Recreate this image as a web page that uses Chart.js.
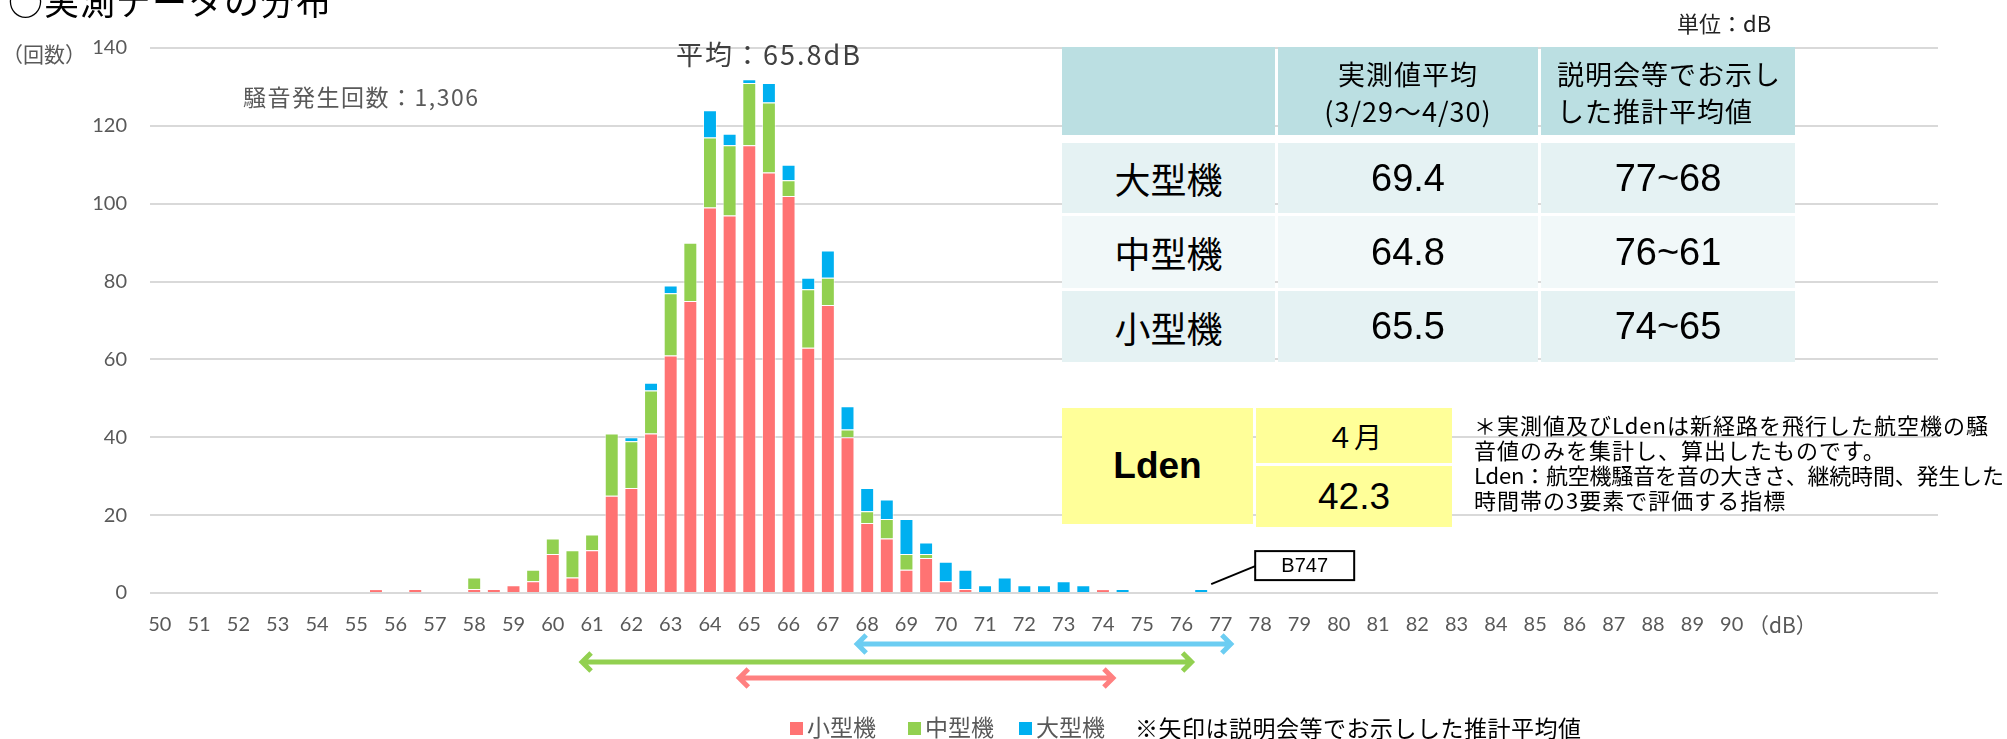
<!DOCTYPE html>
<html lang="ja">
<head>
<meta charset="utf-8">
<title>実測データの分布</title>
<script src="https://cdn.jsdelivr.net/npm/chart.js@4.4.1/dist/chart.umd.min.js"></script>
<style>
  html, body { margin: 0; padding: 0; background: #fff; }
  #page { position: relative; width: 2007px; height: 739px; overflow: hidden;
          font-family: "Noto Sans CJK JP", "Noto Sans", sans-serif; color: #000; }
  #chart { position: absolute; left: 0; top: 0; }
  .t { position: absolute; white-space: nowrap; line-height: 1; }
  .gray { color: #595959; }
  .cell { position: absolute; box-sizing: border-box; display: flex; align-items: center;
          justify-content: center; white-space: nowrap; }
  .num { font-family: "Liberation Sans", Arial, sans-serif; font-size: 38px; }
  .lbl { font-size: 36px; }
  .sq { position: absolute; width: 13px; height: 13px; top: 722px; }
</style>
</head>
<body>
<div id="page">
  <canvas id="chart" width="2007" height="739"></canvas>

  <div class="t" style="left:8px; top:-18px; font-size:35px; letter-spacing:1px;">○実測データの分布</div>
  <div class="t gray" style="left:2px; top:43px; font-size:21px;">（回数）</div>
  <div class="t gray" style="left:243px; top:85px; font-size:23px; letter-spacing:1.5px;">騒音発生回数：1,306</div>
  <div class="t" style="left:676px; top:40px; font-size:27px; letter-spacing:2px; color:#404040;">平均：65.8dB</div>
  <div class="t" style="left:1677px; top:11px; font-size:22px; color:#222;">単位：dB</div>
  <div class="t gray" style="left:1748px; top:614px; font-size:21px;">（dB）</div>

  <div id="table"></div>

  <div class="cell" style="left:1062px; top:408px; width:191px; height:116px; background:#ffff99;
       font-family:'Liberation Sans', Arial, sans-serif; font-weight:bold; font-size:37px;">Lden</div>
  <div class="cell" style="left:1256px; top:408px; width:196px; height:55px; background:#ffff99; font-size:28px;">４月</div>
  <div class="cell num" style="left:1256px; top:466px; width:196px; height:61px; background:#ffff99; font-size:37px;">42.3</div>

  <div class="t" style="left:1474px; top:412px; font-size:22px; line-height:25px; letter-spacing:1px;">
    ＊実測値及びLdenは新経路を飛行した航空機の騒<br>音値のみを集計し、算出したものです。<br><span style="letter-spacing:-0.2px;">Lden：航空機騒音を音の大きさ、継続時間、発生した</span><br>時間帯の3要素で評価する指標
  </div>

  <div id="legend"></div>
  <div class="t" style="left:1135px; top:716px; font-size:23px; letter-spacing:0.5px;">※矢印は説明会等でお示しした推計平均値</div>
</div>

<script>
// 階級 (0.5dB刻み)
const bins = [
  '50','50.5','51','51.5','52','52.5','53','53.5','54','54.5',
  '55','55.5','56','56.5','57','57.5','58','58.5','59','59.5',
  '60','60.5','61','61.5','62','62.5','63','63.5','64','64.5',
  '65','65.5','66','66.5','67','67.5','68','68.5','69','69.5',
  '70','70.5','71','71.5','72','72.5','73','73.5','74','74.5',
  '75','75.5','76','76.5','77','77.5','78','78.5','79','79.5',
  '80','80.5','81','81.5','82','82.5','83','83.5','84','84.5',
  '85','85.5','86','86.5','87','87.5','88','88.5','89','89.5',
  '90','90.5','91','91.5','92','92.5','93','93.5','94','94.5',
  '95'
];
const xTickLabels = [
  '50','51','52','53','54','55','56','57','58','59','60','61','62','63','64','65',
  '66','67','68','69','70','71','72','73','74','75','76','77','78','79','80','81',
  '82','83','84','85','86','87','88','89','90'
];
const yTicks = [0, 20, 40, 60, 80, 100, 120, 140];

// 回数
const smallPlanes = [
  0,0,0,0,0,0,0,0,0,0,
  0,1,0,1,0,0,1,1,2,3,
  10,4,11,25,27,41,61,75,99,97,
  115,108,102,63,74,40,18,14,6,9,
  3,1,0,0,0,0,0,0,1,0,
  0,0,0,0,0,0,0,0,0,0,
  0,0,0,0,0,0,0,0,0,0,
  0,0,0,0,0,0,0,0,0,0,
  0,0,0,0,0,0,0,0,0,0,
  0
];
const mediumPlanes = [
  0,0,0,0,0,0,0,0,0,0,
  0,0,0,0,0,0,3,0,0,3,
  4,7,4,16,12,11,16,15,18,18,
  16,18,4,15,7,2,3,5,4,1,
  0,0,0,0,0,0,0,0,0,0,
  0,0,0,0,0,0,0,0,0,0,
  0,0,0,0,0,0,0,0,0,0,
  0,0,0,0,0,0,0,0,0,0,
  0,0,0,0,0,0,0,0,0,0,
  0
];
const largePlanes = [
  0,0,0,0,0,0,0,0,0,0,
  0,0,0,0,0,0,0,0,0,0,
  0,0,0,0,1,2,2,0,7,3,
  1,5,4,3,7,6,6,5,9,3,
  5,5,2,4,2,2,3,2,0,1,
  0,0,0,1,0,0,0,0,0,0,
  0,0,0,0,0,0,0,0,0,0,
  0,0,0,0,0,0,0,0,0,0,
  0,0,0,0,0,0,0,0,0,0,
  0
];

const seriesNames = ['小型機', '中型機', '大型機'];
const seriesColors = ['#ff7373', '#92d050', '#00b0f0'];

// 表
const tableRows = ['大型機', '中型機', '小型機'];
const measuredAvg = ['69.4', '64.8', '65.5'];
const estimatedHigh = [77, 76, 74];
const estimatedLow = [68, 61, 65];

const calloutBin = '76.5';
const calloutText = 'B747';

// 表を組み立てる
function buildTable() {
    const colX = [1062, 1278, 1541];
    const colW = [213, 260, 254];
    const rowY = [143, 216, 291];
    const rowH = [70, 72, 71];
    const rowBg = ['#e5f2f3', '#f1f8f9', '#e5f2f3'];
    let html = '';
    const hdr = 'background:#bbdfe2; top:47px; height:88px; font-size:27px; line-height:37px; letter-spacing:1px;';
    html += `<div class="cell" style="${hdr} left:${colX[0]}px; width:${colW[0]}px;"></div>`;
    html += `<div class="cell" style="${hdr} left:${colX[1]}px; width:${colW[1]}px; text-align:center; padding-top:2px;">実測値平均<br>(3/29～4/30)</div>`;
    html += `<div class="cell" style="${hdr} left:${colX[2]}px; width:${colW[2]}px; justify-content:flex-start; padding-left:16px; padding-top:2px;">説明会等でお示し<br>した推計平均値</div>`;
    tableRows.forEach((name, i) => {
        const base = `background:${rowBg[i]}; top:${rowY[i]}px; height:${rowH[i]}px;`;
        html += `<div class="cell lbl" style="${base} left:${colX[0]}px; width:${colW[0]}px;">${name}</div>`;
        html += `<div class="cell num" style="${base} left:${colX[1]}px; width:${colW[1]}px;">${measuredAvg[i]}</div>`;
        html += `<div class="cell num" style="${base} left:${colX[2]}px; width:${colW[2]}px;">${estimatedHigh[i]}~${estimatedLow[i]}</div>`;
    });
    document.getElementById('table').innerHTML = html;
}

function buildLegend() {
    const sqX = [790, 908, 1019];
    let html = '';
    seriesNames.forEach((name, i) => {
        html += `<div class="sq" style="left:${sqX[i]}px; background:${seriesColors[i]};"></div>`;
        html += `<div class="t gray" style="left:${sqX[i] + 17}px; top:715px; font-size:23px;">${name}</div>`;
    });
    document.getElementById('legend').innerHTML = html;
}

const annotationPlugin = {
    id: 'annotations',
    afterDatasetsDraw(chart) {
        const { ctx, scales: { x, y } } = chart;
        ctx.save();
        // 推計平均値の範囲 (矢印)
        const arrowStyle = [
            { color: '#6ccdf2', dy: 51 },
            { color: '#92d050', dy: 69 },
            { color: '#ff8080', dy: 85 }
        ];
        tableRows.forEach((name, k) => {
            const x1 = x.getPixelForValue(bins.indexOf(String(estimatedLow[k]))) - 11;
            const x2 = x.getPixelForValue(bins.indexOf(String(estimatedHigh[k]))) + 11;
            const yy = y.bottom + arrowStyle[k].dy;
            ctx.strokeStyle = arrowStyle[k].color;
            ctx.lineWidth = 5;
            ctx.lineJoin = 'miter';
            ctx.beginPath();
            ctx.moveTo(x1 + 2, yy); ctx.lineTo(x2 - 2, yy);
            ctx.moveTo(x1 + 10, yy - 9); ctx.lineTo(x1 + 1, yy); ctx.lineTo(x1 + 10, yy + 9);
            ctx.moveTo(x2 - 10, yy - 9); ctx.lineTo(x2 - 1, yy); ctx.lineTo(x2 - 10, yy + 9);
            ctx.stroke();
        });
        // B747 の吹き出し
        const i = bins.indexOf(calloutBin);
        const px = x.getPixelForValue(i);
        const py = y.getPixelForValue(smallPlanes[i] + mediumPlanes[i] + largePlanes[i]);
        ctx.strokeStyle = '#000';
        ctx.lineWidth = 2;
        ctx.beginPath();
        ctx.moveTo(px + 10, py - 5);
        ctx.lineTo(px + 54, py - 23);
        ctx.stroke();
        ctx.fillStyle = '#fff';
        ctx.fillRect(px + 54, py - 38, 99, 29);
        ctx.strokeRect(px + 54, py - 38, 99, 29);
        ctx.fillStyle = '#000';
        ctx.font = '20px "Liberation Sans", Arial, sans-serif';
        ctx.textAlign = 'center';
        ctx.textBaseline = 'middle';
        ctx.fillText(calloutText, px + 103.5, py - 23);
        ctx.restore();
    }
};

document.addEventListener('DOMContentLoaded', () => {
    buildTable();
    buildLegend();
    const datasets = [smallPlanes, mediumPlanes, largePlanes].map((d, i) => ({
        label: seriesNames[i],
        data: d,
        backgroundColor: seriesColors[i],
        borderColor: 'rgba(255,255,255,0.55)',
        borderWidth: 1,
        barPercentage: 0.71,
        categoryPercentage: 1.0
    }));
    const ctx = document.getElementById('chart').getContext('2d');
    new Chart(ctx, {
        type: 'bar',
        data: { labels: bins, datasets },
        options: {
            responsive: false,
            animation: false,
            devicePixelRatio: 1,
            layout: { padding: { left: 0, right: 69, top: 48, bottom: 0 } },
            plugins: { legend: { display: false }, tooltip: { enabled: false } },
            scales: {
                x: {
                    stacked: true,
                    grid: { display: false, drawTicks: false },
                    border: { display: false },
                    ticks: {
                        autoSkip: false, maxRotation: 0, minRotation: 0, padding: 20,
                        color: '#595959', font: { family: 'Lato', size: 20 },
                        callback: (v, idx) => xTickLabels.includes(bins[idx]) ? bins[idx] : ''
                    },
                    afterFit: s => { s.height = 146; }
                },
                y: {
                    stacked: true,
                    min: yTicks[0],
                    max: yTicks[yTicks.length - 1],
                    grid: { color: '#d9d9d9', lineWidth: 2, drawTicks: false },
                    border: { display: false },
                    ticks: {
                        stepSize: yTicks[1] - yTicks[0], padding: 23,
                        color: '#595959', font: { family: 'Lato', size: 20 }
                    },
                    afterFit: s => { s.width = 150; }
                }
            }
        },
        plugins: [annotationPlugin]
    });
});
</script>
</body>
</html>
